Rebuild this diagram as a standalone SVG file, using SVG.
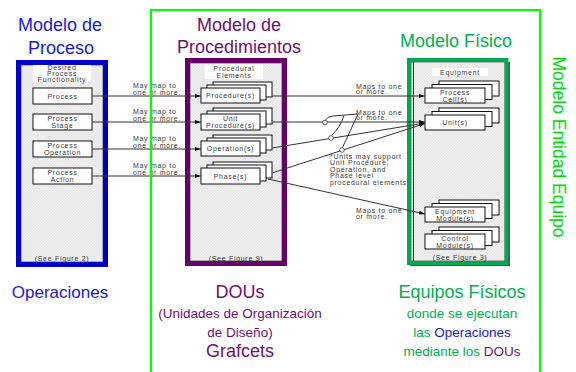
<svg xmlns="http://www.w3.org/2000/svg" width="576" height="372" viewBox="0 0 576 372">
<defs>
<pattern id="hatch" width="3" height="3" patternUnits="userSpaceOnUse">
<rect width="3" height="3" fill="#eeeeee"/>
<path d="M0,3 L3,0" stroke="#dcdcdc" stroke-width="0.5"/>
</pattern>
<marker id="ah" viewBox="0 0 6 4" refX="6" refY="2" markerWidth="6" markerHeight="4" orient="auto" markerUnits="userSpaceOnUse">
<path d="M0,0 L6,2 L0,4 Z" fill="#111"/>
</marker>
</defs>
<style>
.t{font-family:"Liberation Sans",Arial,sans-serif}
.title{font-size:18px;text-anchor:middle}
.sm{font-size:7px;letter-spacing:0.7px;fill:#3a3a3a}
.c{text-anchor:middle}
.box{fill:#fff;stroke:#111;stroke-width:1}
.inner{fill:url(#hatch);stroke:#555;stroke-width:0.8}
.ln{stroke:#333;stroke-width:1;fill:none}
.blue{fill:#1a1ad6}
.purp{fill:#6e1070}
.grn{fill:#00b050}
</style>

<!-- Titles -->
<g id="title-proceso" class="t">
<text x="60" y="31" class="title blue">Modelo de</text>
<text x="61" y="54" class="title blue">Proceso</text>
</g>
<g id="title-procedimientos" class="t">
<text x="239" y="31" class="title purp">Modelo de</text>
<text x="239" y="53" class="title purp">Procedimientos</text>
</g>
<g id="title-fisico" class="t">
<text x="456" y="47" class="title grn">Modelo Físico</text>
</g>

<!-- Process model -->
<g id="process-model" class="t">
<rect x="21" y="65" width="82" height="197" class="inner"/>
<rect x="18.5" y="62.5" width="87" height="202" fill="none" stroke="#0000c8" stroke-width="5"/>
<rect x="33" y="65" width="58" height="17" fill="#fff"/>
<text x="62" y="69.5" class="sm c">Desired</text>
<text x="62" y="75.5" class="sm c">Process</text>
<text x="62" y="81.5" class="sm c">Functionality</text>
<g id="p-process"><rect x="33" y="88" width="59" height="16" class="box"/><text x="62.5" y="98.5" class="sm c">Process</text></g>
<g id="p-stage"><rect x="33" y="114" width="59" height="16" class="box"/><text x="62.5" y="121" class="sm c">Process</text><text x="62.5" y="128" class="sm c">Stage</text></g>
<g id="p-operation"><rect x="33" y="141" width="59" height="16" class="box"/><text x="62.5" y="148" class="sm c">Process</text><text x="62.5" y="155" class="sm c">Operation</text></g>
<g id="p-action"><rect x="33" y="168" width="59" height="16" class="box"/><text x="62.5" y="175" class="sm c">Process</text><text x="62.5" y="182" class="sm c">Action</text></g>
<text x="62" y="261" class="sm c">(See Figure 2)</text>
</g>

<!-- Procedural model -->
<g id="procedural-model" class="t">
<rect x="190" y="63" width="92" height="198" class="inner"/>
<rect x="187.5" y="60.5" width="97" height="203" fill="none" stroke="#660066" stroke-width="5"/>
<rect x="205" y="64" width="58" height="15" fill="#fff"/>
<text x="234" y="71" class="sm c">Procedural</text>
<text x="234" y="77.5" class="sm c">Elements</text>
<g id="procedures"><rect x="213" y="82" width="59" height="15" class="box"/><rect x="207" y="85" width="59" height="15" class="box"/><rect x="201" y="88" width="59" height="15" class="box"/><text x="230.5" y="98" class="sm c">Procedure(s)</text></g>
<g id="unit-procedures"><rect x="213" y="108" width="59" height="16" class="box"/><rect x="207" y="111" width="59" height="16" class="box"/><rect x="201" y="114" width="59" height="16" class="box"/><text x="230.5" y="121" class="sm c">Unit</text><text x="230.5" y="128" class="sm c">Procedure(s)</text></g>
<g id="operations"><rect x="213" y="135" width="59" height="15" class="box"/><rect x="207" y="138" width="59" height="15" class="box"/><rect x="201" y="141" width="59" height="15" class="box"/><text x="230.5" y="151" class="sm c">Operation(s)</text></g>
<g id="phases"><rect x="213" y="162" width="59" height="16" class="box"/><rect x="207" y="165" width="59" height="16" class="box"/><rect x="201" y="168" width="59" height="16" class="box"/><text x="230.5" y="178.5" class="sm c">Phase(s)</text></g>
<text x="236" y="261" class="sm c">(See Figure 9)</text>
</g>

<!-- Physical model -->
<g id="physical-model" class="t">
<rect x="410" y="62" width="100" height="204" fill="#555"/>
<rect x="411" y="62" width="94" height="199" class="inner"/>
<line x1="413.5" y1="62" x2="413.5" y2="261" stroke="#333" stroke-width="1"/>
<rect x="409" y="60" width="97.5" height="203" fill="none" stroke="#00a84f" stroke-width="4"/>
<rect x="432" y="68" width="56" height="8" fill="#fff"/>
<text x="460" y="74.5" class="sm c">Equipment</text>
<g id="process-cells"><rect x="439" y="81" width="60" height="15" class="box"/><rect x="432" y="84.5" width="60" height="15" class="box"/><rect x="425" y="88" width="60" height="15" class="box"/><text x="455" y="94.5" class="sm c">Process</text><text x="455" y="101.5" class="sm c">Cell(s)</text></g>
<g id="units"><rect x="439" y="108" width="60" height="15" class="box"/><rect x="432" y="111.5" width="60" height="15" class="box"/><rect x="425" y="115" width="60" height="15" class="box"/><text x="455" y="125" class="sm c">Unit(s)</text></g>
<g id="equipment-modules"><rect x="439" y="200" width="60" height="15" class="box"/><rect x="432" y="203.5" width="60" height="15" class="box"/><rect x="425" y="207" width="60" height="15" class="box"/><text x="455" y="213.5" class="sm c">Equipment</text><text x="455" y="220.5" class="sm c">Module(s)</text></g>
<g id="control-modules"><rect x="439" y="227" width="60" height="15" class="box"/><rect x="432" y="230.5" width="60" height="15" class="box"/><rect x="425" y="234" width="60" height="15" class="box"/><text x="455" y="240.5" class="sm c">Control</text><text x="455" y="247.5" class="sm c">Module(s)</text></g>
<text x="460" y="259.5" class="sm c">(See Figure 3)</text>
</g>

<!-- Connectors -->
<g id="connectors" class="t">
<line x1="92" y1="96" x2="201" y2="96" class="ln" marker-end="url(#ah)"/>
<line x1="92" y1="122" x2="201" y2="122" class="ln" marker-end="url(#ah)"/>
<line x1="92" y1="149" x2="201" y2="149" class="ln" marker-end="url(#ah)"/>
<line x1="92" y1="176" x2="201" y2="176" class="ln" marker-end="url(#ah)"/>
<text x="133" y="88" class="sm">May map to</text><text x="133" y="94.5" class="sm">one or more.</text>
<text x="133" y="114" class="sm">May map to</text><text x="133" y="120.5" class="sm">one or more.</text>
<text x="133" y="141" class="sm">May map to</text><text x="133" y="147.5" class="sm">one or more.</text>
<text x="133" y="168" class="sm">May map to</text><text x="133" y="174.5" class="sm">one or more.</text>

<line x1="272" y1="96" x2="425" y2="96" class="ln" marker-end="url(#ah)"/>
<line x1="272" y1="122" x2="425" y2="122" class="ln" marker-end="url(#ah)"/>
<line x1="272" y1="148" x2="425" y2="123" class="ln" marker-end="url(#ah)"/>
<line x1="272" y1="173" x2="425" y2="123.5" class="ln" marker-end="url(#ah)"/>
<line x1="268" y1="179" x2="425" y2="214" class="ln" marker-end="url(#ah)"/>
<text x="356" y="88.5" class="sm">Maps to one</text><text x="356" y="94" class="sm">or more.</text>
<text x="356" y="114.5" class="sm">Maps to one</text><text x="356" y="120" class="sm">or more.</text>
<text x="356" y="212.5" class="sm">Maps to one</text><text x="356" y="219" class="sm">or more.</text>

<path d="M325,120.5 Q327,116.5 333,116 L358,114 M358,114 L342.5,147.5 M344,115.5 Q340,128 331.5,135.5" class="ln" stroke-width="0.8"/>
<circle cx="325" cy="122.5" r="2.3" fill="#fff" stroke="#333" stroke-width="0.8"/>
<circle cx="331" cy="138" r="2.3" fill="#fff" stroke="#333" stroke-width="0.8"/>
<circle cx="342" cy="150" r="2.3" fill="#fff" stroke="#333" stroke-width="0.8"/>
<text x="330" y="158.5" class="sm">*Units may support</text>
<text x="330" y="165" class="sm">Unit Procedure,</text>
<text x="330" y="171.5" class="sm">Operation, and</text>
<text x="330" y="178" class="sm">Phase level</text>
<text x="330" y="184.5" class="sm">procedural elements</text>
</g>

<!-- Equipment entity frame -->
<g id="entity-frame" class="t">
<path d="M151,380 L151,10 L540,10 L540,380" fill="none" stroke="#00ff00" stroke-width="2.2"/>
<text transform="translate(553,147) rotate(90)" class="c" font-size="17.5" fill="#00dd00">Modelo Entidad Equipo</text>
</g>

<!-- Bottom captions -->
<g id="caption-operaciones" class="t">
<text x="60" y="298" font-size="17" class="c blue">Operaciones</text>
</g>
<g id="caption-dous" class="t">
<text x="240" y="298" font-size="18" class="c purp">DOUs</text>
<text x="240" y="318" font-size="13.5" class="c purp">(Unidades de Organización</text>
<text x="240" y="337" font-size="13.5" class="c purp">de Diseño)</text>
<text x="240" y="357" font-size="18" class="c purp">Grafcets</text>
</g>
<g id="caption-equipos" class="t">
<text x="462" y="298" font-size="18" class="c grn">Equipos Físicos</text>
<text x="462" y="318" font-size="13.5" class="c grn">donde se ejecutan</text>
<text x="462" y="337" font-size="13.5" class="c"><tspan class="grn">las </tspan><tspan class="blue">Operaciones</tspan></text>
<text x="462" y="356" font-size="13.5" class="c"><tspan class="grn">mediante los </tspan><tspan class="purp">DOUs</tspan></text>
</g>
</svg>
